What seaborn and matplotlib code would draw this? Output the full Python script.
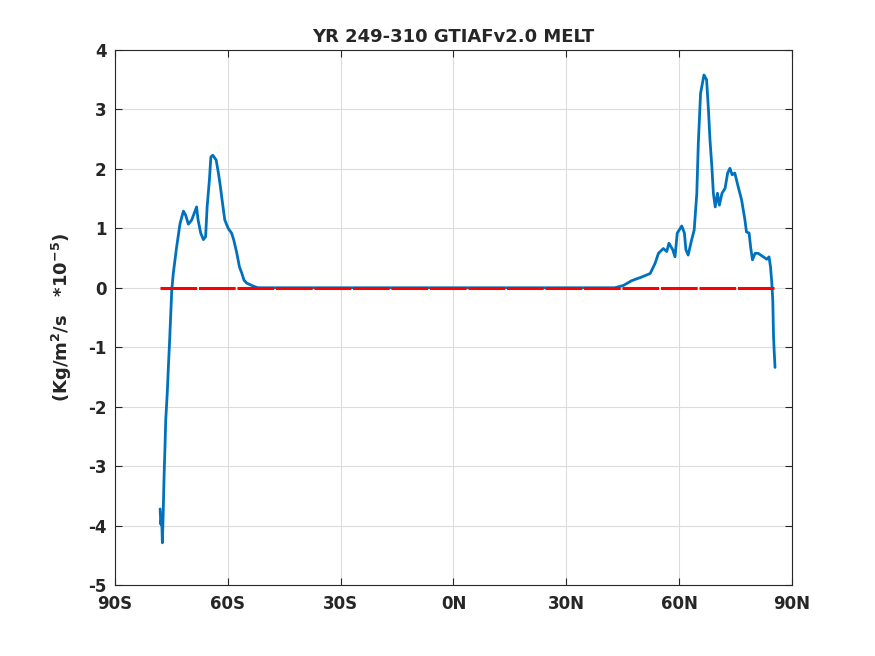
import numpy as np
import pandas as pd
import seaborn as sns
from matplotlib import pyplot as plt

# zonal mean melt (units 1e-5 kg/m2/s)
lat = [-78.0, -77.8, -77.6, -77.4, -77.2, -76.97, -76.7, -76.5, -76.1, -75.8,
       -75.5, -75.2, -74.9, -74.5, -73.6, -72.7, -71.8, -71.2, -70.5, -69.6,
       -68.3, -67.9, -67.2, -66.5, -65.9, -65.5, -64.9, -64.5, -64.0, -63.1,
       -62.5, -62.1, -61.4, -60.8, -59.9, -59.0, -58.4, -57.6, -56.9, -56.3,
       -55.7, -55.0, -53.3, -52.0, 0.0, 42.9, 45.2, 47.4, 50.0, 52.3,
       53.6, 54.5, 55.8, 56.7, 57.3, 58.3, 58.9, 59.5, 60.7, 61.4,
       61.8, 62.4, 63.3, 64.0, 64.7, 65.1, 65.7, 66.6, 67.3, 67.8,
       68.2, 68.7, 69.1, 69.6, 70.2, 70.7, 71.4, 72.2, 72.9, 73.5,
       74.1, 74.8, 75.7, 76.6, 77.5, 77.9, 78.6, 79.0, 79.5, 80.2,
       81.0, 82.4, 83.3, 83.9, 84.3, 84.6, 84.9, 85.1, 85.3, 85.5]
melt = [-3.72, -3.98, -3.83, -4.29, -3.85, -3.23, -2.67, -2.22, -1.77, -1.33,
        -0.93, -0.49, -0.04, 0.24, 0.69, 1.08, 1.29, 1.22, 1.07, 1.14,
        1.36, 1.14, 0.92, 0.81, 0.86, 1.36, 1.81, 2.20, 2.23, 2.15,
        1.93, 1.76, 1.42, 1.14, 1.00, 0.92, 0.80, 0.58, 0.35, 0.25,
        0.13, 0.08, 0.03, 0.0, 0.0, 0.0, 0.04, 0.12, 0.18, 0.24,
        0.41, 0.58, 0.66, 0.61, 0.75, 0.64, 0.52, 0.92, 1.04, 0.92,
        0.64, 0.55, 0.80, 0.97, 1.59, 2.43, 3.27, 3.58, 3.50, 2.99,
        2.49, 2.04, 1.59, 1.36, 1.59, 1.39, 1.59, 1.67, 1.93, 2.01,
        1.90, 1.93, 1.70, 1.48, 1.14, 0.94, 0.92, 0.69, 0.47, 0.58,
        0.58, 0.52, 0.48, 0.52, 0.35, 0.12, -0.21, -0.82, -1.10, -1.34]

zero_lat = [-78.0, 85.3]
zero_val = [0.0, 0.0]

xticks = [-90, -60, -30, 0, 30, 60, 90]
xlabels = ['90S', '60S', '30S', '0N', '30N', '60N', '90N']
yticks = list(range(-5, 5))

df = pd.DataFrame({'lat': lat, 'melt': melt})
zero_df = pd.DataFrame({'lat': zero_lat, 'melt': zero_val})

sns.set_style('ticks')
plt.rcParams['font.family'] = ['DejaVu Sans']
plt.rcParams['font.weight'] = 'bold'
plt.rcParams['mathtext.default'] = 'bf'
plt.rcParams['axes.unicode_minus'] = False

fig = plt.figure(figsize=(8.75, 6.56), dpi=100)
ax = fig.add_axes([0.1314, 0.1082, 0.7737, 0.8156])

sns.lineplot(data=df, x='lat', y='melt', ax=ax, color='#0072BD', linewidth=2.0,
             sort=False, estimator=None)
sns.lineplot(data=zero_df, x='lat', y='melt', ax=ax, color='red', linewidth=2.2,
             dashes=False)
ax.lines[-1].set_dashes([12, 0.6])

ax.set_xlim(-90, 90)
ax.set_ylim(-5, 4)
ax.set_xticks(xticks)
ax.set_xticklabels(xlabels)
ax.set_yticks(yticks)
ax.grid(True, color='#dcdcdc', linewidth=0.8)
ax.tick_params(direction='in', top=True, right=True, length=5, labelsize=12,
               width=0.8, colors='#262626')
ax.tick_params(axis='x', pad=7)
ax.tick_params(axis='y', pad=6)
for lab in ax.get_xticklabels() + ax.get_yticklabels():
    lab.set_fontweight('bold')
for s in ax.spines.values():
    s.set_visible(True)
    s.set_color('#262626')
    s.set_linewidth(0.8)

ax.set_xlabel('')
ax.set_ylabel(r'(Kg/m$^2$/s   *10$^{-5}$)', fontsize=13, fontweight='bold',
              color='#262626', labelpad=10)
ax.set_title('YR 249-310 GTIAFv2.0 MELT', fontsize=13, fontweight='bold',
             pad=6)

plt.savefig('out.png', dpi=100)
